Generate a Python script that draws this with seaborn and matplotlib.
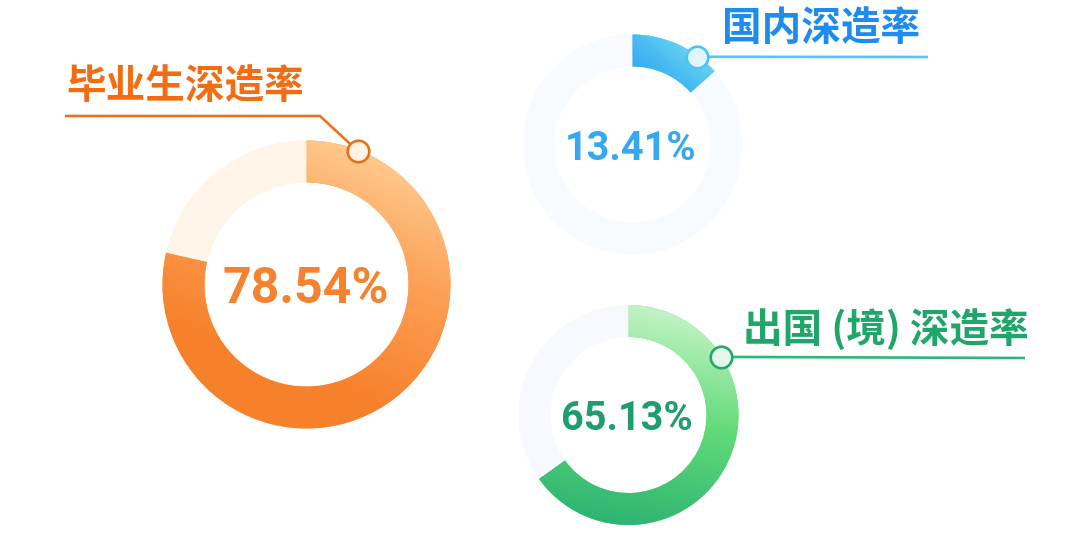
import numpy as np
import matplotlib
matplotlib.use("Agg")
import matplotlib.pyplot as plt
import seaborn as sns

# ---- data ----
labels = ["毕业生深造率", "国内深造率", "出国 (境) 深造率"]
rates = [78.54, 13.41, 65.13]
value_text = ["78.54%", "13.41%", "65.13%"]

sns.set_theme(style="white")
plt.rcParams['font.family'] = ['Noto Sans CJK SC', 'DejaVu Sans']

W, H = 1080, 560
fig = plt.figure(figsize=(10.8, 5.6), dpi=100, facecolor="white")
ax = fig.add_axes([0, 0, 1, 1])


def Y(y):
    return H - y


# layout / style (pixel coords, y measured from top)
styles = [
    dict(cx=306.5, cy=284.5, r=144, w=42,
         grad=["#FFD096", "#FC9F55", "#F7812B"], p0=(380, 140), p1=(290, 370),
         bg="#FEF4E7", ang=69, line=[(65, 116), (320, 116)],
         lc="#F0701C", mface="#FFF3E6", medge="#E8701A",
         label_xy=(66, 86), label_c="#F26C12", num_xy=(306, 303), num_c="#F5822F",
         num_fs=36),
    dict(cx=632.5, cy=144.5, r=110, w=32,
         grad=["#7ADCF7", "#49BDF1", "#2F9FEC"], p0=(700, 40), p1=(650, 100),
         bg="#F7FAFE", ang=53.6, line=[(928, 57)],
         lc="#52C6F4", mface="#E2F5FD", medge="#4CC3F2",
         label_xy=(722, 28), label_c="#1E8CEE", num_xy=(630.5, 160), num_c="#36A8F2",
         num_fs=28.5),
    dict(cx=628.5, cy=415, r=110, w=32,
         grad=["#C4F4C6", "#62DA78", "#2DB473"], p0=(650, 305), p1=(610, 525),
         bg="#F7F9FE", ang=32.2, line=[(1025, 358)],
         lc="#2DB679", mface="#E4F8EA", medge="#23A86D",
         label_xy=(743, 330), label_c="#20A66A", num_xy=(626.5, 430), num_c="#1E9E6C",
         num_fs=28.5),
]

for lab, rate, txt, s in zip(labels, rates, value_text, styles):
    cmap = sns.blend_palette(s["grad"], n_colors=256, as_cmap=True)
    wedges, _ = ax.pie([rate, 100 - rate], radius=s["r"], center=(s["cx"], Y(s["cy"])),
                       startangle=90, counterclock=False,
                       colors=[s["grad"][1], s["bg"]],
                       wedgeprops=dict(width=s["w"], linewidth=0))
    # gradient fill clipped to the value wedge
    x0, x1 = s["cx"] - s["r"] - 2, s["cx"] + s["r"] + 2
    y0, y1 = s["cy"] - s["r"] - 2, s["cy"] + s["r"] + 2
    xs = np.linspace(x0, x1, 300)
    ys = np.linspace(y0, y1, 300)
    XX, YY = np.meshgrid(xs, ys)
    p0, p1 = np.array(s["p0"]), np.array(s["p1"])
    d = p1 - p0
    t = ((XX - p0[0]) * d[0] + (YY - p0[1]) * d[1]) / (d @ d)
    t = np.clip(t, 0, 1)
    im = ax.imshow(t, extent=(x0, x1, Y(y1), Y(y0)), origin="upper", cmap=cmap,
                   vmin=0, vmax=1, aspect="auto", zorder=2, interpolation="bilinear")
    im.set_clip_path(wedges[0])

    # callout
    a = np.deg2rad(s["ang"])
    mx = s["cx"] + (s["r"] - 1) * np.cos(a)
    my = s["cy"] - (s["r"] - 1) * np.sin(a)
    pts = s["line"] + [(mx, my)]
    px = [p[0] for p in pts]
    py = [Y(p[1]) for p in pts]
    ax.plot(px, py, color=s["lc"], lw=1.9, zorder=3, solid_capstyle="butt")
    ax.plot([mx], [Y(my)], marker="o", ms=15.5, mfc=s["mface"], mec=s["medge"],
            mew=1.9, zorder=4)

    # labels
    ax.text(s["label_xy"][0], Y(s["label_xy"][1]), lab, fontsize=28.5, fontweight="bold",
            color=s["label_c"], ha="left", va="center", zorder=5,
            family=['Noto Sans CJK SC', 'DejaVu Sans'])
    ax.text(s["num_xy"][0], Y(s["num_xy"][1]), txt, fontsize=s["num_fs"],
            fontweight="bold", color=s["num_c"], ha="center", va="baseline",
            zorder=5, family=['Roboto', 'DejaVu Sans'])

ax.set_xlim(0, W)
ax.set_ylim(0, H)
ax.set_aspect("auto")
ax.axis("off")

fig.savefig("out.png", dpi=100, facecolor="white")
